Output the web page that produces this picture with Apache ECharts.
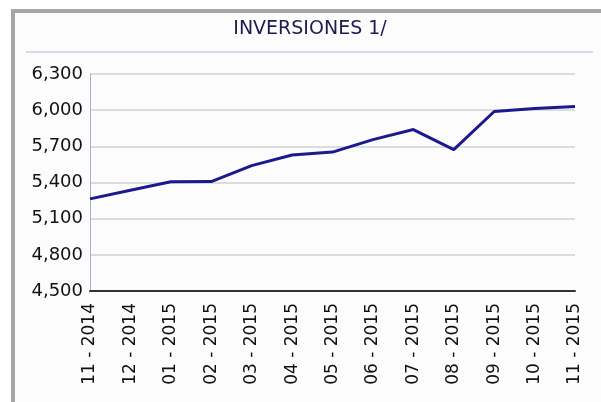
<!DOCTYPE html>
<html>
<head>
<meta charset="utf-8">
<style>
  html, body { margin: 0; padding: 0; background: #ffffff; }
  #chart { width: 601px; height: 402px; }
</style>
<script src="https://cdn.jsdelivr.net/npm/echarts@6/dist/echarts.min.js"></script>
</head>
<body>
<div id="chart"></div>
<script>
// Monthly periods on the category axis
const months = ['11-2014', '12-2014', '01-2015', '02-2015', '03-2015', '04-2015', '05-2015',
                '06-2015', '07-2015', '08-2015', '09-2015', '10-2015', '11-2015'];
// Investment series values
const inversiones = [5264, 5335, 5406, 5408, 5540, 5628, 5652, 5756, 5839, 5672, 5989, 6014, 6031];
// Value axis range
const yMin = 4500;
const yMax = 6300;
const yStep = 300;

const chart = echarts.init(document.getElementById('chart'), null, { renderer: 'canvas' });

const fmt = v => v.toLocaleString('en-US');

chart.setOption({
  animation: false,
  backgroundColor: '#ffffff',
  graphic: [
    // panel background and grey frame
    { type: 'rect', z: -10, shape: { x: 13, y: 11, width: 620, height: 420 },
      style: { fill: '#fcfcfd', stroke: '#a6a6a6', lineWidth: 4 } },
    // separator under the title
    { type: 'rect', z: -5, shape: { x: 26, y: 51, width: 567, height: 2 },
      style: { fill: '#d9d9e8' } },
    { type: 'text', x: 310, y: 29,
      style: { text: 'INVERSIONES 1/', font: '19px "DejaVu Sans", sans-serif',
               fill: '#1c1c50', align: 'center', verticalAlign: 'middle' } }
  ],
  grid: { left: 90, right: 26, top: 74, bottom: 111, containLabel: false },
  xAxis: {
    type: 'category',
    data: months,
    boundaryGap: false,
    axisLine: { lineStyle: { color: '#333333', width: 2 } },
    axisTick: { show: false },
    axisLabel: {
      rotate: 90, margin: 12, color: '#111111',
      formatter: v => v.replace('-', ' - '),
      fontFamily: '"DejaVu Sans", sans-serif', fontSize: 17
    },
    splitLine: { show: false }
  },
  yAxis: {
    type: 'value',
    min: yMin, max: yMax, interval: yStep,
    axisLine: { show: true, lineStyle: { color: '#aab0cc', width: 1 } },
    axisTick: { show: false },
    axisLabel: {
      formatter: fmt, margin: 7, color: '#111111',
      fontFamily: '"DejaVu Sans", sans-serif', fontSize: 18
    },
    splitLine: { show: true, lineStyle: { color: '#d2d2d2', width: 1.5 } }
  },
  series: [{
    type: 'line',
    data: inversiones,
    showSymbol: false,
    symbol: 'none',
    lineStyle: { color: '#1a1a8e', width: 3 },
    z: 5
  }]
});
</script>
</body>
</html>
